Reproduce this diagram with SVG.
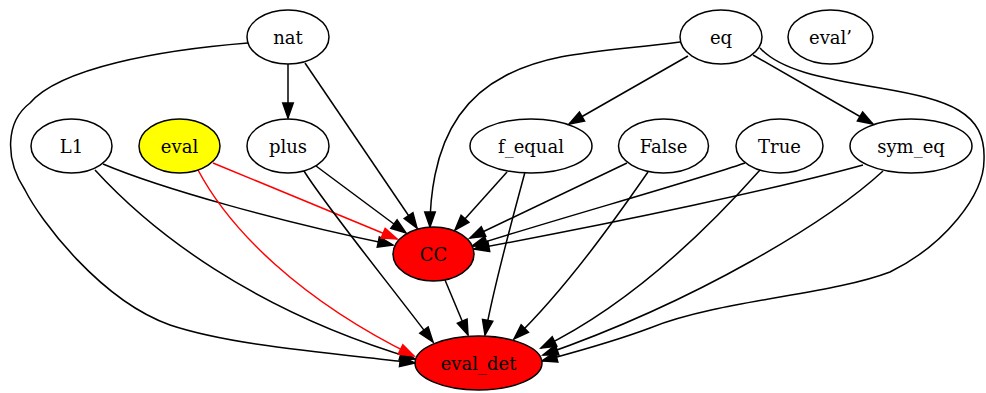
<svg xmlns="http://www.w3.org/2000/svg" width="986" height="393" viewBox="0 0 986 393">
  <style>
    .node ellipse { stroke: #000; stroke-width: 1.5; fill: none; }
    .node text { font-family: "DejaVu Serif", serif; font-size: 18px; text-anchor: middle; fill: #000; }
    .edge { fill: none; stroke: #000; stroke-width: 1.5; marker-end: url(#arrow); }
    .edge.red { stroke: #ff0000; marker-end: url(#arrowRed); }
  </style>
  <defs>
    <marker id="arrow" markerUnits="userSpaceOnUse" markerWidth="18" markerHeight="14" refX="15" refY="5.25" orient="auto" overflow="visible">
      <path d="M0,0 L15,5.25 L0,10.5 Z" fill="#000" stroke="#000" stroke-width="1.5"/>
    </marker>
    <marker id="arrowRed" markerUnits="userSpaceOnUse" markerWidth="18" markerHeight="14" refX="15" refY="5.25" orient="auto" overflow="visible">
      <path d="M0,0 L15,5.25 L0,10.5 Z" fill="#ff0000" stroke="#ff0000" stroke-width="1.5"/>
    </marker>
  </defs>
  <rect width="986" height="393" fill="#fff"/>

  <!-- connectors -->
  <g id="edges">
    <path class="edge" d="M288,64 L288,118"/>
    <path class="edge" d="M305,63 L417,228"/>
    <path class="edge" d="M248,43 C160,50 60,68 30,103 C5,122 5,160 25,190 C40,220 100,300 170,325 C230,345 320,352 415,363"/>
    <path class="edge" d="M688,56 L569,124"/>
    <path class="edge" d="M753,55 L873,124"/>
    <path class="edge" d="M680,42 C600,52 550,52 505,76 C470,94 445,125 435,175 C431,195 430,210 430,227"/>
    <path class="edge" d="M760,48 C780,70 820,78 880,88 C950,100 986,112 984,160 C984,195 945,245 890,272 C830,295 720,300 650,328 C610,343 575,352 542,361"/>
    <path class="edge" d="M103,164 C160,188 280,222 393,245"/>
    <path class="edge" d="M95,170 C150,230 250,310 415,359"/>
    <path class="edge red" d="M213,163 L397,239"/>
    <path class="edge red" d="M198,170 C230,230 300,300 414,356"/>
    <path class="edge" d="M316,166 L406,233"/>
    <path class="edge" d="M304,171 C325,205 390,285 433,342"/>
    <path class="edge" d="M507,172 L455,230"/>
    <path class="edge" d="M525,172 C515,210 495,280 485,335"/>
    <path class="edge" d="M627,163 L470,238"/>
    <path class="edge" d="M648,172 C625,205 570,285 514,339"/>
    <path class="edge" d="M745,163 C690,182 560,218 472,246"/>
    <path class="edge" d="M760,170 C720,215 640,300 541,348"/>
    <path class="edge" d="M863,165 C780,188 620,222 474,249"/>
    <path class="edge" d="M883,171 C830,220 700,300 543,355"/>
    <path class="edge" d="M445,280 L468,335"/>
  </g>

  <!-- nodes -->
  <g id="nodes">
    <g id="nat" class="node"><ellipse cx="288" cy="37" rx="41" ry="27"/><text x="288" y="44">nat</text></g>
    <g id="eq" class="node"><ellipse cx="721" cy="37" rx="41" ry="27"/><text x="721" y="44">eq</text></g>
    <g id="eval_prime" class="node"><ellipse cx="830.5" cy="37" rx="42.5" ry="27"/><text x="830.5" y="44">eval’</text></g>
    <g id="L1" class="node"><ellipse cx="71.5" cy="146" rx="40.5" ry="27"/><text x="71.5" y="153">L1</text></g>
    <g id="eval" class="node"><ellipse cx="179.5" cy="146" rx="40.5" ry="27" style="fill:#ffff00"/><text x="179.5" y="153">eval</text></g>
    <g id="plus" class="node"><ellipse cx="288" cy="146" rx="41" ry="27"/><text x="288" y="153">plus</text></g>
    <g id="f_equal" class="node"><ellipse cx="531" cy="146" rx="61" ry="27"/><text x="531" y="153">f_equal</text></g>
    <g id="False" class="node"><ellipse cx="663.5" cy="146" rx="45" ry="27"/><text x="663.5" y="153">False</text></g>
    <g id="True" class="node"><ellipse cx="779.5" cy="146" rx="43.5" ry="27"/><text x="779.5" y="153">True</text></g>
    <g id="sym_eq" class="node"><ellipse cx="911" cy="146" rx="61" ry="27"/><text x="911" y="153">sym_eq</text></g>
    <g id="CC" class="node"><ellipse cx="433.5" cy="254" rx="40.5" ry="27" style="fill:#ff0000"/><text x="433.5" y="261">CC</text></g>
    <g id="eval_det" class="node"><ellipse cx="478.5" cy="363" rx="63.5" ry="27" style="fill:#ff0000"/><text x="478.5" y="370">eval_det</text></g>
  </g>
</svg>
